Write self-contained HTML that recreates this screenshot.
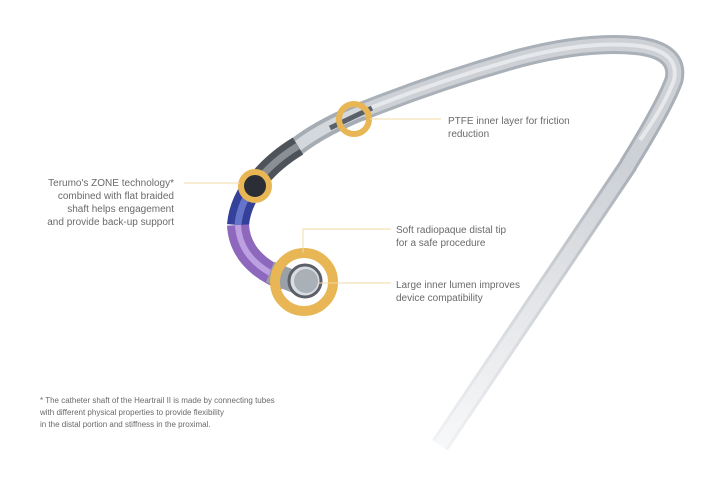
<!DOCTYPE html>
<html><head><meta charset="utf-8"><style>
html,body{margin:0;padding:0;background:#fff;width:726px;height:482px;overflow:hidden}
svg{display:block}
text{font-family:"Liberation Sans",sans-serif;fill:#6a6a6a;font-size:10px}
.f{font-size:8px;fill:#6a6a6a}
</style></head><body>
<svg width="726" height="482" viewBox="0 0 726 482">
<defs>
<linearGradient id="go" gradientUnits="userSpaceOnUse" x1="628" y1="165" x2="440" y2="445">
<stop offset="0" stop-color="#aab0b8"/><stop offset="0.45" stop-color="#cfd2d7"/><stop offset="1" stop-color="#f1f2f4"/>
</linearGradient>
<linearGradient id="gi" gradientUnits="userSpaceOnUse" x1="628" y1="165" x2="440" y2="445">
<stop offset="0" stop-color="#cdd0d5"/><stop offset="0.45" stop-color="#e2e4e7"/><stop offset="1" stop-color="#f7f8f9"/>
</linearGradient>
</defs>
<!-- straight faded part -->
<path d="M629 164 L440 445" fill="none" stroke="url(#go)" stroke-width="19"/>
<path d="M629 164 L440 445" fill="none" stroke="url(#gi)" stroke-width="13"/>
<!-- arch -->
<path d="M628 165 Q665 105 674 80 Q680 52 640 46 Q590 40 520 58 Q440 80 360 112" fill="none" stroke="#aab0b8" stroke-width="19"/>
<path d="M628 165 Q665 105 674 80 Q680 52 640 46 Q590 40 520 58 Q440 80 360 112" fill="none" stroke="#cdd0d5" stroke-width="13"/>
<path d="M640 140 Q665 105 674 80 Q680 52 640 46 Q590 40 520 58 Q440 80 360 112" fill="none" stroke="#e6e8eb" stroke-width="4"/>
<!-- inner cut part -->
<path d="M362 111 Q320 128 295 148" fill="none" stroke="#a6acb4" stroke-width="19"/>
<path d="M362 111 Q320 128 295 148" fill="none" stroke="#d4d7db" stroke-width="11"/>
<path d="M330 128 L372 108" stroke="#5b6168" stroke-width="5"/>
<!-- braided section -->
<path d="M298 146 Q275 160 260 178" fill="none" stroke="#4e535a" stroke-width="20"/>
<path d="M298 146 Q275 160 260 178" fill="none" stroke="#8a8f96" stroke-width="7"/>
<!-- blue section -->
<path d="M260 178 Q240 200 238 225" fill="none" stroke="#34409a" stroke-width="22"/>
<path d="M260 178 Q240 200 238 225" fill="none" stroke="#6474c8" stroke-width="7"/>
<!-- purple section -->
<path d="M238 225 Q240 262 285 280" fill="none" stroke="#8d68bc" stroke-width="22"/>
<path d="M238 225 Q240 262 285 280" fill="none" stroke="#bda0e2" stroke-width="6"/>
<path d="M270 272 L300 284" stroke="#9aa0a8" stroke-width="22"/>
<!-- rings -->
<circle cx="354" cy="119" r="15" fill="none" stroke="#e8b654" stroke-width="6"/>
<circle cx="255" cy="186" r="14" fill="#2b2f35" stroke="#e8b654" stroke-width="6"/>
<circle cx="304" cy="282" r="29" fill="none" stroke="#e8b654" stroke-width="10"/>
<circle cx="305" cy="281" r="16" fill="#d9dde2" stroke="#5b6068" stroke-width="3"/>
<circle cx="306" cy="281" r="12" fill="#aab0b8"/>
<!-- leader lines -->
<g stroke="#f0d9a6" stroke-width="1" fill="none">
<line x1="370" y1="119" x2="441" y2="119"/>
<line x1="184" y1="183" x2="240" y2="183"/>
<polyline points="303,253 303,229 391,229"/>
<line x1="318" y1="283" x2="391" y2="283"/>
</g>
<text x="448" y="124">PTFE inner layer for friction</text>
<text x="448" y="137">reduction</text>
<text x="174" y="186" text-anchor="end">Terumo's ZONE technology*</text>
<text x="174" y="199" text-anchor="end">combined with flat braided</text>
<text x="174" y="212" text-anchor="end">shaft helps engagement</text>
<text x="174" y="225" text-anchor="end">and provide back-up support</text>
<text x="396" y="233">Soft radiopaque distal tip</text>
<text x="396" y="246">for a safe procedure</text>
<text x="396" y="288">Large inner lumen improves</text>
<text x="396" y="301">device compatibility</text>
<text class="f" x="40" y="403">* The catheter shaft of the Heartrail II is made by connecting tubes</text>
<text class="f" x="40" y="415">with different physical properties to provide flexibility</text>
<text class="f" x="40" y="427">in the distal portion and stiffness in the proximal.</text>
</svg>
</body></html>
